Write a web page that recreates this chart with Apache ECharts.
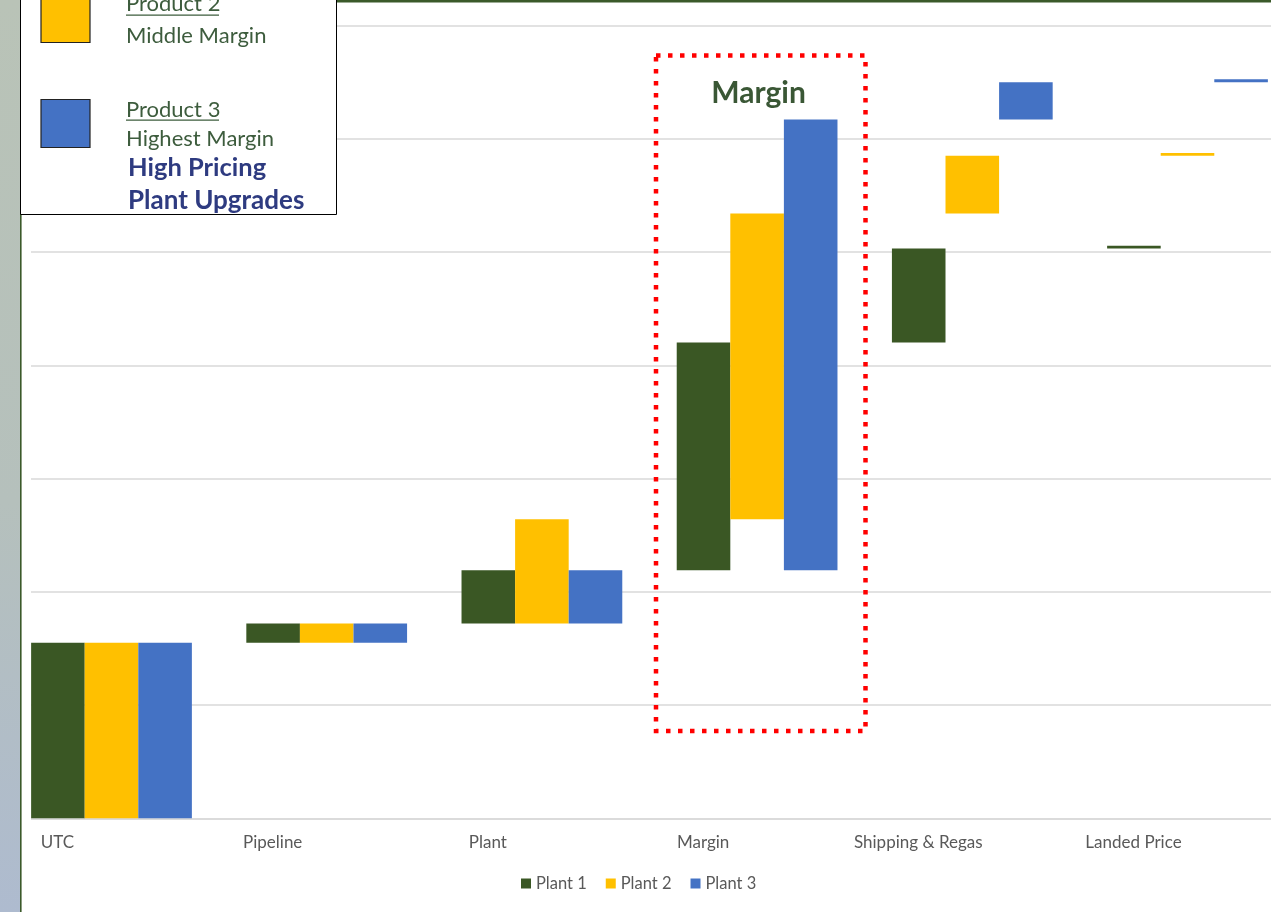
<!DOCTYPE html>
<html>
<head>
<meta charset="utf-8">
<script src="https://cdn.jsdelivr.net/npm/echarts@6/dist/echarts.min.js"></script>
<style>
  html, body { margin: 0; padding: 0; background: #ffffff; }
  #chart { width: 1271px; height: 912px; }
</style>
</head>
<body>
<div id="chart"></div>
<script>
// Cost build-up per plant (waterfall steps, arbitrary units)
const categories = ['UTC', 'Pipeline', 'Plant', 'Margin', 'Shipping & Regas', 'Landed Price'];
const seriesNames = ['Plant 1', 'Plant 2', 'Plant 3'];
const plant1Steps = [1.55, 0.17, 0.47, 2.01, 0.83];
const plant2Steps = [1.55, 0.17, 0.92, 2.70, 0.51];
const plant3Steps = [1.55, 0.17, 0.47, 3.98, 0.33];
const seriesColors = ['#3A5724', '#FFC000', '#4472C4'];

// thickness of the landed-price marker, in value units
const LANDED_MARK = 0.025;

// Turn a list of steps into an invisible base + a visible rise per category.
// The last category (landed price) is the running total shown as a thin marker.
function waterfall(steps) {
  const base = [], rise = [];
  let run = 0;
  steps.forEach(s => { base.push(run); rise.push(s); run += s; });
  base.push(run);
  rise.push(LANDED_MARK);
  return { base, rise };
}

const allSteps = [plant1Steps, plant2Steps, plant3Steps];
const series = [];
allSteps.forEach((steps, i) => {
  const wf = waterfall(steps);
  series.push({
    name: 'base' + i, type: 'bar', stack: 's' + i, silent: true,
    barGap: '0%', barCategoryGap: '25.3%',
    itemStyle: { color: 'rgba(0,0,0,0)' },
    data: wf.base
  });
  series.push({
    name: seriesNames[i], type: 'bar', stack: 's' + i,
    barGap: '0%', barCategoryGap: '25.3%',
    itemStyle: { color: seriesColors[i] },
    data: wf.rise
  });
});

const FONT = 'Lato';
const textGreen = '#3D5C3D';
const navy = '#2E3B80';

const chart = echarts.init(document.getElementById('chart'), null, { renderer: 'canvas' });
chart.setOption({
  animation: false,
  backgroundColor: '#ffffff',
  // the plot runs past the right edge of the canvas
  grid: { left: 3.9, top: 25.5, width: 1291.2, height: 792.8, containLabel: false, outerBoundsMode: 'none' },
  xAxis: {
    type: 'category',
    data: categories,
    axisLine: { show: true, lineStyle: { color: '#D9D9D9', width: 1.5 } },
    axisTick: { show: false },
    axisLabel: {
      color: '#595959', fontSize: 17, fontFamily: FONT,
      margin: 16, padding: [0, 108, 0, 0]
    }
  },
  yAxis: {
    type: 'value', min: 0, max: 7, interval: 1,
    axisLine: { show: false }, axisTick: { show: false },
    axisLabel: { show: false },
    splitLine: { lineStyle: { color: '#D9D9D9', width: 1.5 } }
  },
  legend: {
    data: seriesNames,
    left: 516, top: 870,
    icon: 'rect', itemWidth: 10, itemHeight: 10, itemGap: 19,
    textStyle: { color: '#595959', fontSize: 16.5, fontFamily: FONT }
  },
  series: series,
  graphic: [
    // slide edge decoration on the left
    { type: 'rect', z: 100, shape: { x: 0, y: 0, width: 31, height: 912 }, style: { fill: '#ffffff' } },
    { type: 'rect', z: 101, shape: { x: 0, y: 0, width: 20, height: 912 },
      style: { fill: new echarts.graphic.LinearGradient(0, 0, 0, 1, [
        { offset: 0, color: '#B9C3B7' }, { offset: 0.55, color: '#B5C0BC' }, { offset: 1, color: '#AEBBCF' }
      ]) } },
    { type: 'rect', z: 102, shape: { x: 20, y: 0, width: 1.6, height: 912 }, style: { fill: '#3B5A2A' } },
    { type: 'rect', z: 102, shape: { x: 337, y: 0, width: 934, height: 2.5 }, style: { fill: '#3B5A2A' } },

    // product key box
    { type: 'rect', z: 110, shape: { x: 20.5, y: -5, width: 316, height: 219.5 },
      style: { fill: '#ffffff', stroke: '#000000', lineWidth: 1 } },
    { type: 'rect', z: 111, shape: { x: 41, y: -6, width: 49, height: 48.5 },
      style: { fill: '#FFC000', stroke: '#222222', lineWidth: 1.2 } },
    { type: 'rect', z: 111, shape: { x: 41, y: 99.5, width: 49, height: 48 },
      style: { fill: '#4472C4', stroke: '#222222', lineWidth: 1.2 } },
    { type: 'text', z: 111, x: 126, y: 4,
      style: { text: 'Product 2', fill: textGreen, font: '22px ' + FONT, textVerticalAlign: 'middle' } },
    { type: 'rect', z: 111, shape: { x: 126, y: 14.5, width: 93, height: 1.3 }, style: { fill: textGreen } },
    { type: 'text', z: 111, x: 126, y: 36,
      style: { text: 'Middle Margin', fill: textGreen, font: '22px ' + FONT, textVerticalAlign: 'middle' } },
    { type: 'text', z: 111, x: 126, y: 109.5,
      style: { text: 'Product 3', fill: textGreen, font: '22px ' + FONT, textVerticalAlign: 'middle' } },
    { type: 'rect', z: 111, shape: { x: 126, y: 119.5, width: 93, height: 1.3 }, style: { fill: textGreen } },
    { type: 'text', z: 111, x: 126, y: 138.5,
      style: { text: 'Highest Margin', fill: textGreen, font: '22px ' + FONT, textVerticalAlign: 'middle' } },
    { type: 'text', z: 111, x: 128, y: 168,
      style: { text: 'High Pricing', fill: navy, font: 'bold 25.5px ' + FONT, textVerticalAlign: 'middle' } },
    { type: 'text', z: 111, x: 128, y: 201,
      style: { text: 'Plant Upgrades', fill: navy, font: 'bold 26px ' + FONT, textVerticalAlign: 'middle' } },

    // highlighted margin step
    { type: 'rect', z: 90, shape: { x: 656, y: 55.5, width: 209.5, height: 675.5 },
      style: { fill: 'none', stroke: '#FF0000', lineWidth: 4.5, lineDash: [4.5, 7.5] } },
    { type: 'text', z: 90, x: 758.5, y: 93,
      style: { text: 'Margin', fill: '#3A5735', font: 'bold 30px ' + FONT,
               textAlign: 'center', textVerticalAlign: 'middle' } }
  ]
});
</script>
</body>
</html>
